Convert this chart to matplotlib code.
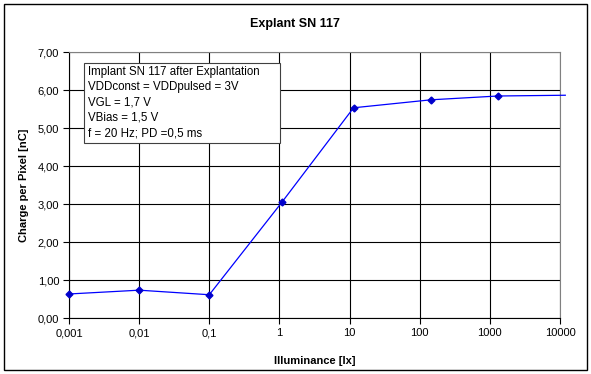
import matplotlib
matplotlib.use("Agg")
import matplotlib.pyplot as plt
from matplotlib.ticker import FixedLocator, FuncFormatter, NullLocator
from matplotlib.patches import Rectangle

plt.rcParams['font.family'] = ['Liberation Sans', 'DejaVu Sans']

# measured data (illuminance in lx, charge in nC)
illuminance = [0.001, 0.01, 0.1, 1.08, 11.4, 145, 1300, 11900]
charge = [0.64, 0.74, 0.62, 3.05, 5.54, 5.75, 5.85, 5.87]
x_ticks = [0.001, 0.01, 0.1, 1, 10, 100, 1000, 10000]
x_tick_labels = ['0,001', '0,01', '0,1', '1', '10', '100', '1000', '10000']
y_ticks = [0, 1, 2, 3, 4, 5, 6, 7]
info_lines = ['Implant SN 117 after Explantation',
              'VDDconst = VDDpulsed = 3V',
              'VGL = 1,7 V',
              'VBias = 1,5 V',
              'f = 20 Hz; PD =0,5 ms']

fig = plt.figure(figsize=(5.91, 3.74), dpi=100)
ax = fig.add_axes([69/591, 1 - 318.3/374, (560 - 69)/591, (318.3 - 52.3)/374])

ax.plot(illuminance, charge, color='#0000ff', lw=0.9, marker='D', ms=3.5,
        mfc='#0000cc', mec='#0000cc', markevery=list(range(7)), clip_on=False, zorder=3)

ax.set_xscale('log')
ax.set_xlim(0.001, 10000)
ax.set_ylim(0, 7)
ax.xaxis.set_major_locator(FixedLocator(x_ticks))
ax.xaxis.set_minor_locator(NullLocator())
ax.set_xticklabels(x_tick_labels)
ax.yaxis.set_major_locator(FixedLocator(y_ticks))
ax.yaxis.set_major_formatter(FuncFormatter(lambda v, p: f'{v:.2f}'.replace('.', ',')))
ax.tick_params(labelsize=8, length=4, width=0.8, color='black', direction='out', pad=3)
ax.grid(True, color='black', lw=0.8)
ax.set_axisbelow(True)
for side in ['top', 'right']:
    ax.spines[side].set_color('#808080')
for side in ['left', 'bottom']:
    ax.spines[side].set_color('black')

ax.set_xlabel('Illuminance [lx]', fontsize=8, fontweight='bold', labelpad=13)
ax.set_ylabel('Charge per Pixel [nC]', fontsize=8, fontweight='bold', labelpad=6)
fig.text(295/591, 1 - 24/374, 'Explant SN 117', ha='center', va='center',
         fontsize=9, fontweight='bold')

# info box
box = Rectangle((84.3/591, 1 - 142.7/374), (280 - 84.3)/591, (142.7 - 62.7)/374,
                transform=fig.transFigure, facecolor='white', edgecolor='#404040',
                lw=0.8, zorder=4)
fig.add_artist(box)
fig.text(87.5/591, 1 - 65.5/374, '\n'.join(info_lines), ha='left', va='top',
         fontsize=8.3, linespacing=1.38, zorder=5)

# outer chart border
fig.add_artist(Rectangle((4/591, 4/374), 583/591, 366/374, transform=fig.transFigure,
                         facecolor='none', edgecolor='black', lw=1.0))

fig.savefig('out.png', dpi=100)
